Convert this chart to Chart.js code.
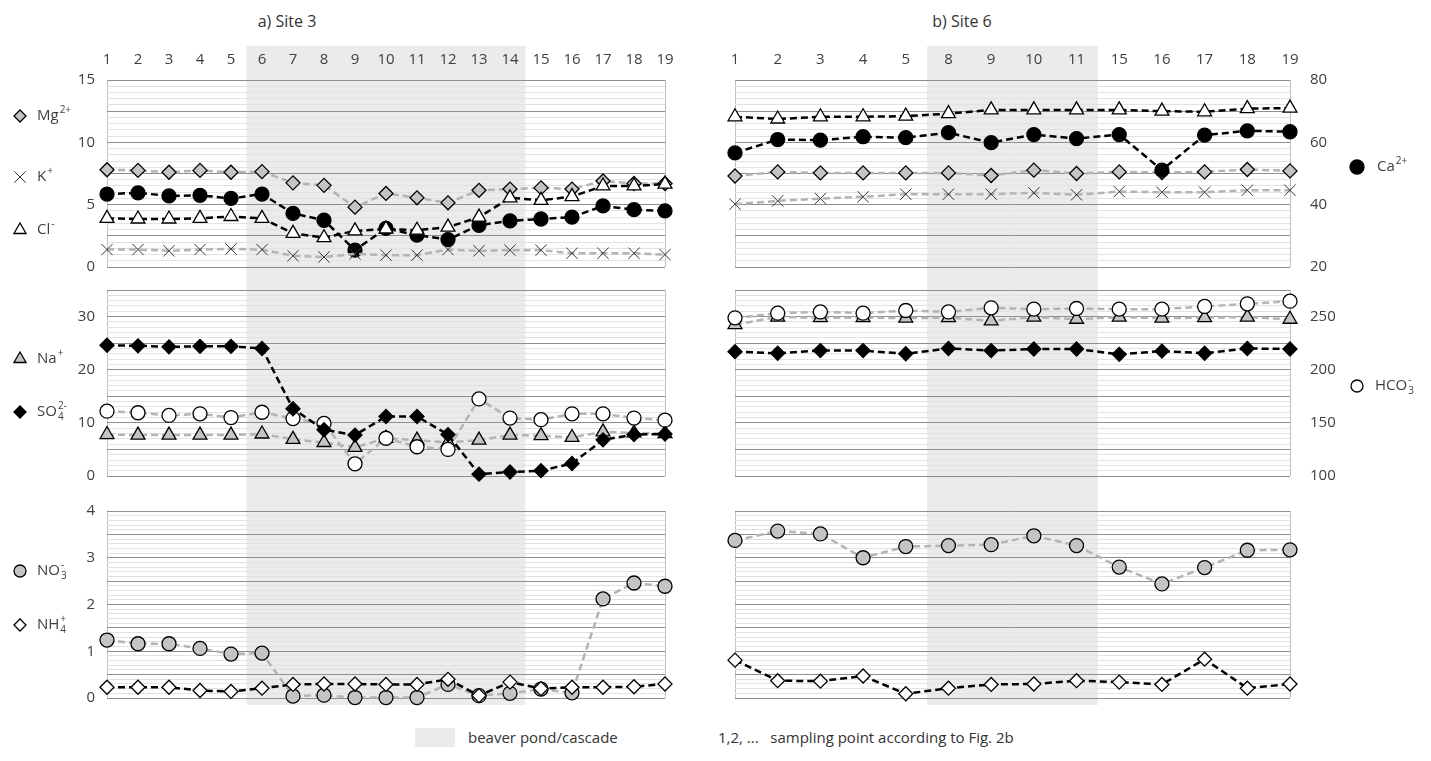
<!DOCTYPE html>
<html>
<head>
<meta charset="utf-8">
<script src="https://cdn.jsdelivr.net/npm/chart.js@4.4.0/dist/chart.umd.min.js"></script>
<style>
  body { margin: 0; background: #fff; font-family: "Open Sans", sans-serif; color: #333; }
  #wrap { position: relative; width: 1431px; height: 761px; overflow: hidden; }
  canvas { position: absolute; }
  .title { position: absolute; top: 10px; font-size: 16px; transform: translateX(-50%); white-space: nowrap; }
  .note { position: absolute; top: 727px; font-size: 15px; white-space: pre; }
  .swatch { position: absolute; left: 415px; top: 728px; width: 40px; height: 19px; background: #ebebeb; }
</style>
</head>
<body>
<div id="wrap">
  <div class="title" style="left:287px">a) Site 3</div>
  <div class="title" style="left:962px">b) Site 6</div>

  <canvas id="s3top" width="700" height="233" style="left:0;top:46px"></canvas>
  <canvas id="s3mid" width="700" height="215" style="left:0;top:279px"></canvas>
  <canvas id="s3bot" width="700" height="226" style="left:0;top:494px"></canvas>
  <canvas id="s6top" width="731" height="233" style="left:700px;top:46px"></canvas>
  <canvas id="s6mid" width="731" height="215" style="left:700px;top:279px"></canvas>
  <canvas id="s6bot" width="731" height="226" style="left:700px;top:494px"></canvas>

  <div class="swatch"></div>
  <div class="note" style="left:468px">beaver pond/cascade</div>
  <div class="note" style="left:718px">1,2, ...   sampling point according to Fig. 2b</div>
</div>

<script>
// sampling points
const site3Points = ['1','2','3','4','5','6','7','8','9','10','11','12','13','14','15','16','17','18','19'];
const site6Points = ['1','2','3','4','5','8','9','10','11','15','16','17','18','19'];
const site3Pond = ['6', '14'];
const site6Pond = ['8', '11'];

// Site 3 (left scales)
const mg3   = [7.8, 7.75, 7.6, 7.75, 7.6, 7.65, 6.75, 6.55, 4.8, 5.9, 5.55, 5.15, 6.15, 6.25, 6.35, 6.25, 6.9, 6.7, 6.7];
const k3    = [1.4, 1.4, 1.3, 1.4, 1.45, 1.4, 0.9, 0.8, 1.05, 0.95, 0.95, 1.4, 1.3, 1.35, 1.35, 1.1, 1.1, 1.1, 1.0];
const cl3   = [3.9, 3.85, 3.85, 3.9, 4.05, 3.9, 2.7, 2.35, 2.9, 3.05, 2.95, 3.2, 4.0, 5.55, 5.35, 5.65, 6.5, 6.5, 6.65];
const ca3   = [5.85, 5.95, 5.7, 5.75, 5.5, 5.85, 4.3, 3.75, 1.35, 3.1, 2.55, 2.2, 3.35, 3.7, 3.85, 4.0, 4.9, 4.6, 4.5];
const na3   = [7.8, 7.7, 7.7, 7.7, 7.7, 7.9, 6.9, 6.3, 5.4, 7.1, 6.75, 6.3, 6.75, 7.7, 7.6, 7.25, 8.3, 8.1, 8.0];
const so4_3 = [24.6, 24.5, 24.3, 24.4, 24.4, 24.0, 12.65, 8.7, 7.7, 11.2, 11.2, 7.8, 0.35, 0.75, 1.0, 2.35, 6.8, 7.8, 7.9];
const hco3_3 = [12.2, 11.9, 11.4, 11.7, 11.0, 12.0, 10.8, 9.9, 2.3, 7.1, 5.5, 5.0, 14.5, 10.9, 10.6, 11.7, 11.7, 10.9, 10.5];
const no3_3 = [1.24, 1.16, 1.16, 1.06, 0.94, 0.96, 0.04, 0.06, 0.01, 0.01, 0.01, 0.29, 0.05, 0.1, 0.19, 0.11, 2.12, 2.46, 2.39];
const nh4_3 = [0.23, 0.23, 0.23, 0.16, 0.14, 0.21, 0.29, 0.3, 0.3, 0.29, 0.29, 0.4, 0.05, 0.34, 0.2, 0.23, 0.23, 0.24, 0.3];

// Site 6 (Ca and HCO3 on the right scales)
const mg6   = [7.3, 7.63, 7.55, 7.55, 7.55, 7.55, 7.34, 7.77, 7.5, 7.63, 7.58, 7.63, 7.82, 7.71];
const k6    = [5.04, 5.3, 5.49, 5.63, 5.84, 5.84, 5.84, 5.95, 5.79, 6.05, 6.0, 6.0, 6.16, 6.16];
const cl6   = [12.05, 11.87, 12.05, 12.05, 12.1, 12.3, 12.6, 12.6, 12.6, 12.6, 12.5, 12.45, 12.7, 12.75];
const ca6   = [56.6, 60.9, 60.7, 61.8, 61.5, 63.1, 59.9, 62.5, 61.2, 62.5, 51.1, 62.3, 63.7, 63.4];
const na6   = [28.5, 29.9, 29.8, 29.8, 29.7, 29.8, 29.2, 29.9, 29.5, 29.9, 29.7, 29.8, 29.9, 29.5];
const so4_6 = [23.4, 23.1, 23.6, 23.6, 23.0, 24.0, 23.6, 23.9, 23.9, 22.9, 23.5, 23.1, 24.0, 23.9];
const hco3_6 = [248.8, 253.2, 254.4, 253.2, 255.7, 254.4, 258.2, 257, 257.6, 257, 257, 259.5, 262, 264.5];
const no3_6 = [3.37, 3.57, 3.51, 3.0, 3.24, 3.26, 3.28, 3.47, 3.26, 2.8, 2.44, 2.79, 3.16, 3.17];
const nh4_6 = [0.81, 0.37, 0.36, 0.47, 0.09, 0.21, 0.29, 0.3, 0.37, 0.34, 0.29, 0.83, 0.21, 0.3];

// axis ranges: step = minor grid, major = dark grid, label = labelled ticks
const topAxis = { min: 0, max: 15, step: 0.5, major: 2.5, label: 5 };
const midAxis = { min: 0, max: 35, step: 1, major: 5, label: 10 };
const botAxis = { min: 0, max: 4, step: 0.1, major: 0.5, label: 1 };
const caAxis = { min: 20, max: 80, step: 20 };
const hco3Axis = { min: 100, max: 275, step: 50 };

const BLACK = '#000';
const GRAY = '#b4b4b4';
const FILLGRAY = '#c4c4c4';
const TEXT = '#404040';

Chart.defaults.font.family = '"Open Sans", sans-serif';
Chart.defaults.font.size = 15;
Chart.defaults.color = TEXT;

const marks = {
  mg:   { pointStyle: 'rectRot', fill: FILLGRAY, line: GRAY },
  k:    { pointStyle: 'crossRot', fill: '#333', line: GRAY, border: '#333', r: 8, bw: 1 },
  cl:   { pointStyle: 'triangle', fill: '#fff', line: BLACK, r: 8 },
  ca:   { pointStyle: 'circle', fill: '#000', line: BLACK },
  na:   { pointStyle: 'triangle', fill: FILLGRAY, line: GRAY, r: 8 },
  so4:  { pointStyle: 'rectRot', fill: '#000', line: BLACK },
  hco3: { pointStyle: 'circle', fill: '#fff', line: GRAY },
  no3:  { pointStyle: 'circle', fill: FILLGRAY, line: GRAY },
  nh4:  { pointStyle: 'rectRot', fill: '#fff', line: BLACK }
};

function series(data, key, axis) {
  const m = marks[key];
  return {
    data: data,
    yAxisID: axis || 'y',
    borderColor: m.line,
    borderWidth: 2.5,
    borderDash: [7, 4],
    tension: 0,
    pointStyle: m.pointStyle,
    pointRadius: m.r || 7,
    pointBackgroundColor: m.fill,
    pointBorderColor: m.border || '#000',
    pointBorderWidth: m.bw || 1.3,
    clip: false
  };
}

function isMult(v, step) {
  const q = v / step;
  return Math.abs(q - Math.round(q)) < 1e-6;
}

// keep the panel box fixed: no extra room for half labels
function fixBox(s, w, h) {
  if (w != null) s.width = w;
  if (h != null) s.height = h;
  s.paddingTop = 0;
  s.paddingBottom = 0;
  s.paddingLeft = 0;
  s.paddingRight = 0;
}

// grey band behind the beaver pond points, full canvas height
const pondShade = {
  id: 'pondShade',
  beforeDraw(chart, args, opts) {
    const x = chart.scales.x;
    const labels = chart.data.labels;
    const i0 = labels.indexOf(opts.from);
    const i1 = labels.indexOf(opts.to);
    const left = (x.getPixelForValue(i0 - 1) + x.getPixelForValue(i0)) / 2;
    const right = (x.getPixelForValue(i1) + x.getPixelForValue(i1 + 1)) / 2;
    const bottom = opts.below == null ? chart.height : chart.chartArea.bottom + opts.below;
    const ctx = chart.ctx;
    ctx.save();
    ctx.fillStyle = '#ebebeb';
    ctx.fillRect(left, 0, right - left, bottom);
    ctx.restore();
  }
};

// ion labels beside the panels, marker taken from the dataset
const ionLegend = {
  id: 'ionLegend',
  afterDraw(chart, args, opts) {
    const ctx = chart.ctx;
    (opts.items || []).forEach(it => {
      const ds = chart.data.datasets[it.ds];
      ctx.save();
      ctx.fillStyle = ds.pointBackgroundColor;
      ctx.strokeStyle = ds.pointBorderColor;
      ctx.lineWidth = ds.pointBorderWidth;
      Chart.helpers.drawPoint(ctx, {
        pointStyle: ds.pointStyle, rotation: 0,
        radius: it.r || 6, borderWidth: ds.pointBorderWidth
      }, it.x, it.y);
      ctx.fillStyle = TEXT;
      ctx.textBaseline = 'middle';
      ctx.textAlign = 'left';
      ctx.font = '15px "Open Sans"';
      const tx = it.x + (it.dx || 17);
      ctx.fillText(it.base, tx, it.y);
      const w = ctx.measureText(it.base).width;
      ctx.font = '10px "Open Sans"';
      if (it.sup) ctx.fillText(it.sup, tx + w + 1, it.y - 6);
      if (it.sub) ctx.fillText(it.sub, tx + w + 1, it.y + 5);
      ctx.restore();
    });
  }
};

function makePanel(id, cfg) {
  const n = cfg.labels.length;
  const ax = cfg.axis;
  const scales = {
    x: {
      type: 'category',
      position: cfg.topLabels ? 'top' : 'bottom',
      offset: false,
      grid: {
        drawTicks: false,
        color: c => (c.index === 0 || c.index === n - 1) ? '#c0c0c0' : 'rgba(0,0,0,0)'
      },
      border: { display: false },
      ticks: { display: !!cfg.topLabels, padding: 11, maxRotation: 0, autoSkip: false },
      afterFit: s => fixBox(s, null, cfg.topLabels ? 34 : 0)
    },
    y: {
      position: 'left',
      min: ax.min, max: ax.max,
      border: { display: false },
      grid: {
        drawTicks: false,
        color: c => isMult(c.tick.value, ax.major) ? '#8f8f8f' : '#e2e2e2'
      },
      ticks: {
        display: !!cfg.showY,
        stepSize: ax.step, autoSkip: false, padding: 12,
        callback: v => isMult(v, ax.label) ? String(Math.round(v)) : ''
      },
      afterFit: s => fixBox(s, cfg.showY ? 107 : 0, null)
    }
  };
  if (cfg.right) {
    const r = cfg.right;
    scales.y2 = {
      position: 'right',
      min: r.min, max: r.max,
      border: { display: false },
      grid: { drawOnChartArea: false, drawTicks: false },
      ticks: {
        stepSize: r.step, autoSkip: false, padding: 20,
        callback: v => isMult(v, r.step) ? String(v) : ''
      },
      afterFit: s => fixBox(s, 141, null)
    };
  }
  return new Chart(document.getElementById(id), {
    type: 'line',
    data: { labels: cfg.labels, datasets: cfg.datasets },
    options: {
      responsive: false,
      animation: false,
      events: [],
      layout: { padding: cfg.padding },
      plugins: {
        legend: { display: false },
        tooltip: { enabled: false },
        pondShade: cfg.pond,
        ionLegend: { items: cfg.legend }
      },
      scales: scales
    },
    plugins: [pondShade, ionLegend]
  });
}

// ---- Site 3 ----
makePanel('s3top', {
  labels: site3Points, axis: topAxis, showY: true, topLabels: true,
  padding: { left: 0, right: 35, top: 0, bottom: 12 },
  pond: { from: site3Pond[0], to: site3Pond[1] },
  datasets: [series(k3, 'k'), series(cl3, 'cl'), series(ca3, 'ca'), series(mg3, 'mg')],
  legend: [
    { ds: 3, x: 20, y: 70, base: 'Mg', sup: '2+' },
    { ds: 0, x: 20, y: 131, base: 'K', sup: '+', r: 8 },
    { ds: 1, x: 20, y: 184, base: 'Cl', sup: '-', r: 7 }
  ]
});
makePanel('s3mid', {
  labels: site3Points, axis: midAxis, showY: true,
  padding: { left: 0, right: 35, top: 11, bottom: 18 },
  pond: { from: site3Pond[0], to: site3Pond[1] },
  datasets: [series(so4_3, 'so4'), series(hco3_3, 'hco3'), series(na3, 'na')],
  legend: [
    { ds: 2, x: 20, y: 80, base: 'Na', sup: '+', r: 7 },
    { ds: 0, x: 20, y: 133, base: 'SO', sub: '4', sup: '2-' }
  ]
});
makePanel('s3bot', {
  labels: site3Points, axis: botAxis, showY: true,
  padding: { left: 0, right: 35, top: 17, bottom: 22 },
  pond: { from: site3Pond[0], to: site3Pond[1], below: 7 },
  datasets: [series(nh4_3, 'nh4'), series(no3_3, 'no3')],
  legend: [
    { ds: 1, x: 20, y: 77, base: 'NO', sub: '3', sup: '-' },
    { ds: 0, x: 20, y: 131, base: 'NH', sub: '4', sup: '+' }
  ]
});

// ---- Site 6 ----
makePanel('s6top', {
  labels: site6Points, axis: topAxis, topLabels: true, right: caAxis,
  padding: { left: 35, right: 0, top: 0, bottom: 12 },
  pond: { from: site6Pond[0], to: site6Pond[1] },
  datasets: [series(cl6, 'cl'), series(ca6, 'ca', 'y2'), series(mg6, 'mg'), series(k6, 'k')],
  legend: [
    { ds: 1, x: 657, y: 121, base: 'Ca', sup: '2+', r: 7, dx: 20 }
  ]
});
makePanel('s6mid', {
  labels: site6Points, axis: midAxis, right: hco3Axis,
  padding: { left: 35, right: 0, top: 11, bottom: 18 },
  pond: { from: site6Pond[0], to: site6Pond[1] },
  datasets: [series(hco3_6, 'hco3', 'y2'), series(na6, 'na'), series(so4_6, 'so4')],
  legend: [
    { ds: 0, x: 657, y: 107, base: 'HCO', sub: '3', sup: '-', r: 6, dx: 18 }
  ]
});
makePanel('s6bot', {
  labels: site6Points, axis: botAxis,
  padding: { left: 35, right: 141, top: 17, bottom: 22 },
  pond: { from: site6Pond[0], to: site6Pond[1], below: 7 },
  datasets: [series(nh4_6, 'nh4'), series(no3_6, 'no3')],
  legend: []
});
</script>
</body>
</html>
